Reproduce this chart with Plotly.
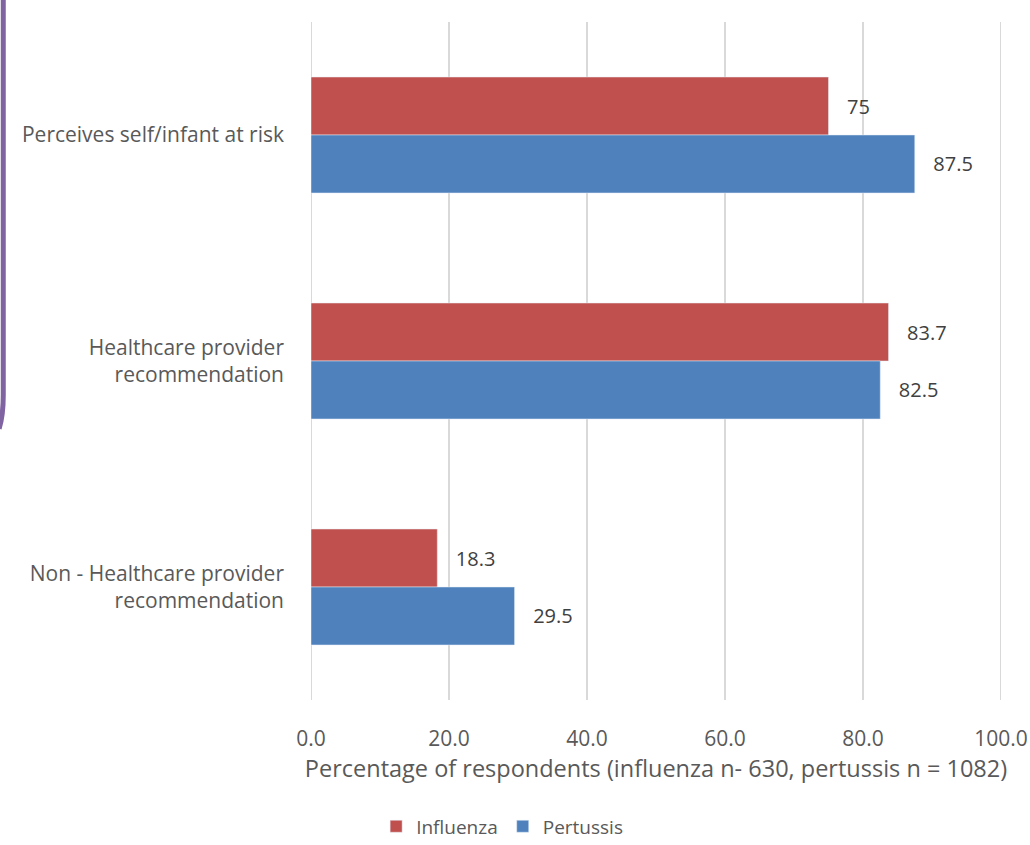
import plotly.graph_objects as go

categories = ["Perceives self/infant at risk", "Healthcare provider<br>recommendation",
              "Non - Healthcare provider<br>recommendation"]
influenza = [75, 83.7, 18.3]
pertussis = [87.5, 82.5, 29.5]
influenza_labels = ["75", "83.7", "18.3"]
pertussis_labels = ["87.5", "82.5", "29.5"]
x_ticks = [0, 20, 40, 60, 80, 100]
x_ticklabels = ["0.0", "20.0", "40.0", "60.0", "80.0", "100.0"]

font_family = "Open Sans, sans-serif"
pad = "\u00a0\u00a0\u00a0"

fig = go.Figure()
fig.add_trace(go.Bar(
    y=categories, x=influenza, orientation="h", name="Influenza",
    marker=dict(color="#c0504d"), text=[pad + t for t in influenza_labels],
    textposition="outside",
    textfont=dict(size=20, color="#404040", family=font_family), cliponaxis=False))
fig.add_trace(go.Bar(
    y=categories, x=pertussis, orientation="h", name="Pertussis",
    marker=dict(color="#4f81bd"), text=[pad + t for t in pertussis_labels],
    textposition="outside",
    textfont=dict(size=20, color="#404040", family=font_family), cliponaxis=False))

fig.update_layout(
    width=1030, height=845,
    margin=dict(l=311, r=29, t=22, b=145, autoexpand=False),
    paper_bgcolor="white", plot_bgcolor="white",
    barmode="group", bargap=0.487, bargroupgap=0,
    font=dict(family=font_family, color="#595959", size=20),
    xaxis=dict(range=[0, 100], tickvals=x_ticks, ticktext=x_ticklabels,
               showgrid=True, gridcolor="#d9d9d9", gridwidth=2,
               zeroline=False, showline=False, ticks="", automargin=False,
               ticklabelstandoff=24,
               tickfont=dict(size=21, color="#595959"),
               title=dict(text="Percentage of respondents (influenza n- 630, pertussis n = 1082)",
                          font=dict(size=23.5, color="#595959"), standoff=9)),
    yaxis=dict(autorange="reversed", showgrid=False, zeroline=False, showline=False,
               ticks="", ticklabelstandoff=26, automargin=False,
               tickfont=dict(size=21, color="#595959")),
    legend=dict(orientation="h", x=0.277, xanchor="center", yref="container",
                y=0.022, yanchor="middle",
                font=dict(size=19, color="#595959"), traceorder="normal"),
    shapes=[
        dict(type="line", xref="x", yref="paper", x0=0, x1=0, y0=0, y1=1,
             line=dict(color="#d9d9d9", width=2), layer="below"),
        dict(type="line", xref="x", yref="paper", x0=100, x1=100, y0=0, y1=1,
             line=dict(color="#d9d9d9", width=2), layer="below"),
        dict(type="path", xref="paper", yref="paper",
             path="M -0.446,1.05 L -0.446,0.45 Q -0.446,0.42 -0.452,0.40",
             line=dict(color="#8063a1", width=5)),
    ],
)
fig.update_xaxes(layer="below traces")

fig.write_html("out.html")
